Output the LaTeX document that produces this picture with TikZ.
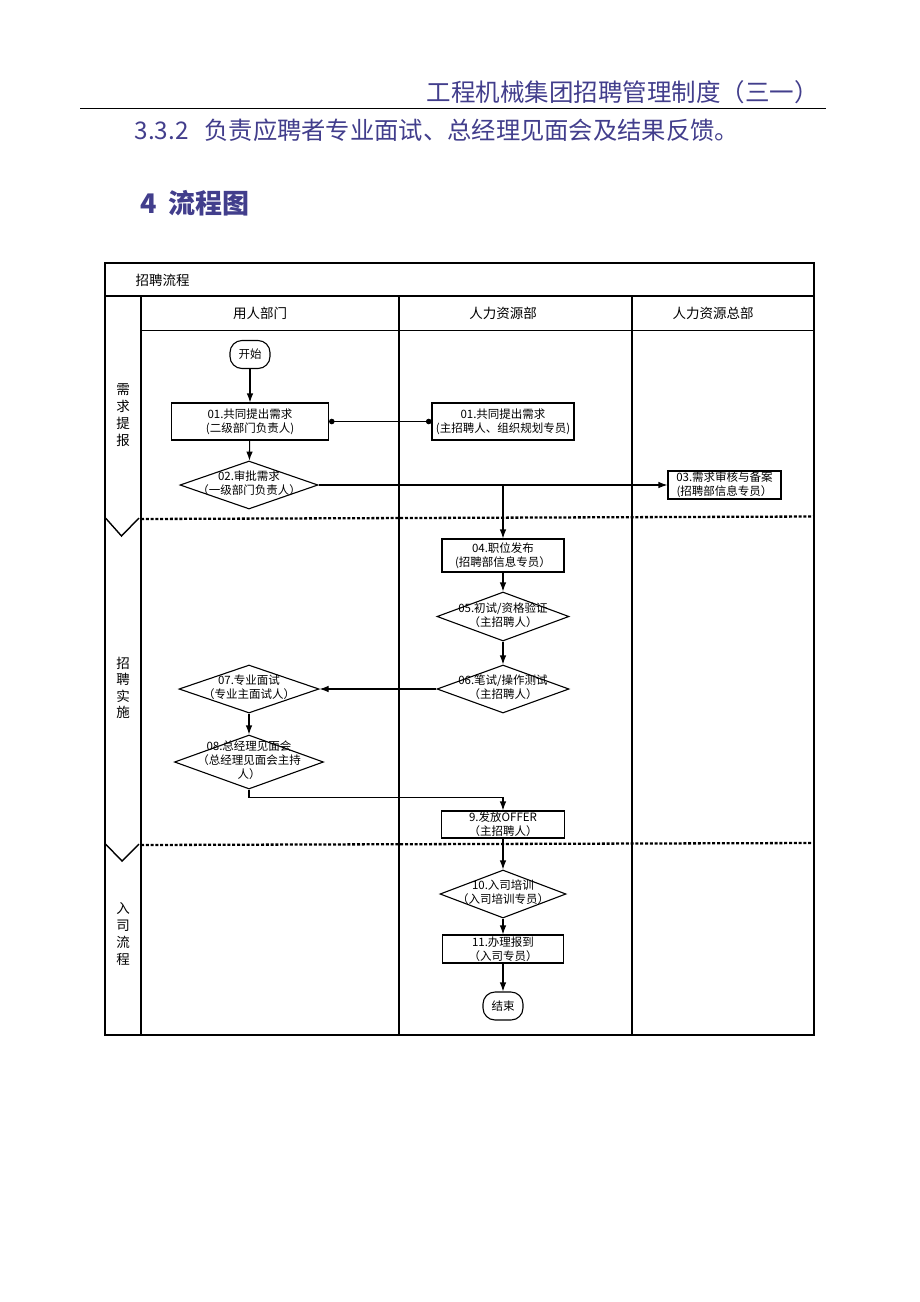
\documentclass[tikz,border=0pt]{standalone}
\usepackage{fontspec}
\setmainfont{Noto Sans CJK SC}
\usetikzlibrary{arrows.meta,shapes.geometric}
\definecolor{docblue}{RGB}{66,62,140}
\newcommand\flowtxt[1]{\makebox[0pt][c]{\begin{tabular}{@{}c@{}}#1\end{tabular}}}

\begin{document}
\begin{tikzpicture}[x=1pt,y=-1pt,
    chart/.style={font=\fontsize{11.5}{14}\selectfont},
    block/.style={
      chart,
      draw,
      shape=rectangle,
      align=center,
      inner sep=0pt,
      line width=1.1pt
    },
    decide/.style={chart, draw, shape=diamond, inner sep=0pt, line width=1.1pt},
    term/.style={chart, draw, rounded corners=12pt, minimum width=40pt, minimum height=28pt, line width=1.1pt},
    flow/.style={-{Latex[length=9pt,width=6.5pt]}, line width=1.1pt},
    dotlink/.style={{Circle[length=5.5pt]}-{Circle[length=5.5pt]}, line width=1.1pt},
    lane/.style={align=center, font=\fontsize{13.5}{17}\selectfont},
    split/.style={line width=2.3pt, dash pattern=on 3pt off 1.8pt},
    frame/.style={line width=1.4pt}
    ]
    \useasboundingbox (0,0) rectangle (920,1302);
    % page head
    \node[anchor=west, text=docblue, font=\fontsize{24.5}{26}\selectfont] (hdr) at (423,92) {工程机械集团招聘管理制度（三一）};
    \draw[line width=1pt] (80,108) -- (826,108);
    \node[anchor=west, text=docblue, font=\fontsize{24.3}{26}\selectfont] (sec) at (131,130) {3.3.2\hspace{16pt}负责应聘者专业面试、总经理见面会及结果反馈。};
    \node[anchor=west, text=docblue, font=\fontsize{27}{29}\selectfont\bfseries] (chap) at (137,203) {4\hspace{12pt}流程图};

    % frame of the chart
    \draw[frame] (105,263) rectangle (814,1035);
    \draw[frame] (105,296) -- (814,296);
    \draw[frame] (141,296) -- (141,1035);
    \draw[frame] (141,330.5) -- (814,330.5);
    \draw[frame] (399,296) -- (399,1035);
    \draw[frame] (632,296) -- (632,1035);
    \draw[split] (141,519) -- (814,516.5);
    \draw[split] (141,845) -- (814,843);
    \draw[frame] (105.5,518) -- (121.5,536) -- (139,518);
    \draw[frame] (105.5,844) -- (122,861) -- (139,844);

    \node[anchor=west, lane] (title) at (132,280) {招聘流程};
    \node[lane] (colA) at (260,313) {用人部门};
    \node[lane] (colB) at (503,313) {人力资源部};
    \node[lane] (colC) at (713,313) {人力资源总部};
    \node[lane] (laneA) at (123,415.5) {需\\求\\提\\报};
    \node[lane, font=\fontsize{13.5}{16.5}\selectfont] (laneB) at (123,688) {招\\聘\\实\\施};
    \node[lane] (laneC) at (123,934) {入\\司\\流\\程};

    % steps
    \node[term] (start) at (250,354.5) {开始};
    \node[block, minimum width=157pt, minimum height=37pt] (b01a) at (250,421.5) {01.共同提出需求\\(二级部门负责人)};
    \node[block, minimum width=142pt, minimum height=37pt] (b01b) at (503,421.5) {01.共同提出需求\\(主招聘人、组织规划专员)};
    \node[decide, minimum width=138pt, minimum height=48pt] (d02) at (249,485) {\flowtxt{02.审批需求\\（一级部门负责人）}};
    \node[block, minimum width=113pt, minimum height=28pt] (b03) at (724.5,485) {03.需求审核与备案\\(招聘部信息专员）};
    \node[block, minimum width=122pt, minimum height=33pt] (b04) at (503,555.5) {04.职位发布\\(招聘部信息专员）};
    \node[decide, minimum width=132pt, minimum height=49pt] (d05) at (503,616.5) {\flowtxt{05.初试/资格验证\\（主招聘人）}};
    \node[decide, minimum width=132pt, minimum height=48pt] (d06) at (503,689) {\flowtxt{06.笔试/操作测试\\（主招聘人）}};
    \node[decide, minimum width=140pt, minimum height=48pt] (d07) at (249,689) {\flowtxt{07.专业面试\\（专业主面试人）}};
    \node[decide, minimum width=149pt, minimum height=54pt] (d08) at (249,762) {\flowtxt{08.总经理见面会\\（总经理见面会主持\\人）}};
    \node[block, minimum width=123pt, minimum height=27pt] (b09) at (503,824.5) {9.发放OFFER\\（主招聘人）};
    \node[decide, minimum width=126pt, minimum height=48pt] (d10) at (503,894) {\flowtxt{10.入司培训\\（入司培训专员）}};
    \node[block, minimum width=121pt, minimum height=28pt] (b11) at (503,949) {11.办理报到\\（入司专员）};
    \node[term] (stop) at (503,1006) {结束};

    % links
    \draw[flow] (start) -- (b01a);
    \draw[dotlink] (b01a.east) -- (b01b.west);
    \draw[flow] (b01a) -- (d02);
    \draw[flow] (d02.east) -- (b03.west);
    \draw[flow] (d02.east) -| (b04.north);
    \draw[flow] (b04) -- (d05);
    \draw[flow] (d05) -- (d06);
    \draw[flow] (d06.west) -- (d07.east);
    \draw[flow] (d07) -- (d08);
    \draw[flow] (d08.south) -- ++(0,8) -| (b09.north);
    \draw[flow] (b09) -- (d10);
    \draw[flow] (d10) -- (b11);
    \draw[flow] (b11) -- (stop);
  \end{tikzpicture}
\end{document}
